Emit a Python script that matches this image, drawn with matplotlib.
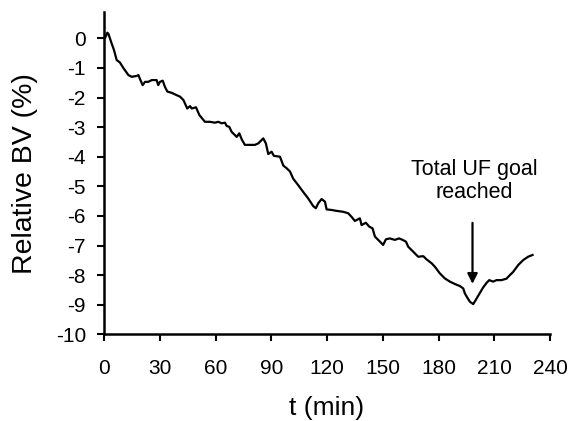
import matplotlib
matplotlib.use("Agg")
import matplotlib.pyplot as plt

t_min = [0.0, 0.5, 1.8, 2.4, 4.1, 5.4, 6.8, 8.6, 10.4, 13.1, 14.9, 17.6, 18.5, 19.4, 20.8,
         22.1, 23.8, 25.7, 28.3, 29.2, 30.1, 31.6, 32.8, 34.1, 36.4, 39.1, 40.9, 42.7,
         44.8, 46.3, 47.2, 49.5, 51.3, 54.3, 57.0, 59.7, 61.5, 63.3, 65.1, 66.0, 67.4,
         68.7, 71.4, 72.8, 74.1, 75.8, 78.5, 81.2, 83.0, 85.7, 87.1, 88.4, 90.2, 91.4,
         94.7, 96.5, 98.3, 100.1, 101.8, 104.5, 107.2, 109.9, 112.6, 114.0, 115.3, 117.1,
         118.9, 119.8, 122.5, 125.2, 128.7, 131.4, 133.2, 135.0, 137.7, 138.6, 140.9,
         142.7, 144.5, 145.8, 148.5, 150.2, 151.7, 153.8, 156.5, 158.8, 160.7, 162.5,
         163.7, 166.4, 169.1, 171.8, 173.6, 176.3, 178.1, 180.7, 183.4, 186.1, 188.8,
         191.5, 193.3, 194.2, 195.4, 196.9, 198.7, 200.5, 202.3, 204.0, 205.9, 207.3,
         209.4, 211.2, 213.9, 216.6, 218.4, 220.2, 222.9, 225.6, 228.2, 230.6]
rel_bv = [0.0, 0.0, 0.19, 0.15, -0.17, -0.4, -0.73, -0.82, -1.0, -1.24, -1.3, -1.27, -1.24,
          -1.38, -1.58, -1.47, -1.47, -1.41, -1.41, -1.58, -1.47, -1.43, -1.64, -1.8, -1.84,
          -1.92, -1.97, -2.08, -2.37, -2.29, -2.37, -2.33, -2.59, -2.82, -2.82, -2.85, -2.82,
          -2.87, -2.85, -2.96, -2.99, -3.16, -3.33, -3.21, -3.41, -3.6, -3.6, -3.6, -3.55,
          -3.38, -3.55, -3.91, -3.83, -3.97, -4.0, -4.3, -4.39, -4.5, -4.74, -4.96, -5.19,
          -5.41, -5.67, -5.74, -5.57, -5.43, -5.52, -5.78, -5.8, -5.83, -5.86, -5.91, -6.03,
          -6.17, -6.08, -6.31, -6.23, -6.36, -6.42, -6.7, -6.87, -6.98, -6.79, -6.76, -6.81,
          -6.76, -6.81, -6.87, -7.04, -7.21, -7.38, -7.36, -7.47, -7.6, -7.72, -7.94, -8.11,
          -8.22, -8.3, -8.37, -8.45, -8.62, -8.75, -8.9, -8.98, -8.79, -8.6, -8.42, -8.26,
          -8.17, -8.22, -8.17, -8.17, -8.12, -8.0, -7.89, -7.66, -7.49, -7.38, -7.32]

x_ticks = [0, 30, 60, 90, 120, 150, 180, 210, 240]
y_ticks = [0, -1, -2, -3, -4, -5, -6, -7, -8, -9, -10]
annotation_lines = ["Total UF goal", "reached"]
arrow_t = 198.3
arrow_from = -6.14
arrow_to = -8.39

plt.rcParams['font.family'] = ['Liberation Sans', 'DejaVu Sans']
fig = plt.figure(figsize=(5.71, 4.21), dpi=100)
ax = fig.add_axes([104/571, 1-334.3/421, (550-104)/571, (334.3-12)/421])
ax.plot(t_min, rel_bv, color='black', lw=1.6)
ax.set_xlim(0, 240)
ax.set_ylim(-10, 0.89)
ax.set_xticks(x_ticks)
ax.set_yticks(y_ticks)
ax.set_yticklabels([str(v) for v in y_ticks])
for s in ['top', 'right']:
    ax.spines[s].set_visible(False)
for s in ['left', 'bottom']:
    ax.spines[s].set_linewidth(1.8)
ax.tick_params(direction='out', length=5, width=1.5, labelsize=15)
ax.tick_params(axis='x', pad=13)
ax.tick_params(axis='y', pad=8)
ax.set_xlabel('t (min)', fontsize=19)
ax.set_ylabel('Relative BV (%)', fontsize=20.5)
ax.xaxis.set_label_coords(0.5, (334.3-408)/322.3)
ax.xaxis.label.set_va('center')
ax.yaxis.set_label_coords((25-104)/446, 0.5)
ax.yaxis.label.set_va('center')
ax.annotate('', xy=(arrow_t, arrow_to), xytext=(arrow_t, arrow_from),
            arrowprops=dict(arrowstyle='-|>', color='black', lw=1.6, mutation_scale=15))
ax.text(199.4, -4.62, annotation_lines[0], ha='center', va='baseline', fontsize=15.5)
ax.text(199.4, -5.41, annotation_lines[1], ha='center', va='baseline', fontsize=15.5)
fig.savefig('out.png', dpi=100)
